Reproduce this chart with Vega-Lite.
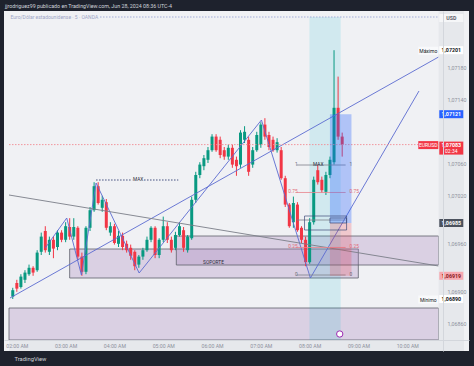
{
"$schema":"https://vega.github.io/schema/vega-lite/v6.json",
"width":465,"height":340,
"autosize":{"type":"none"},
"padding":{"left":4,"top":11,"right":5,"bottom":15},
"background":"#1e222d",
"view":{"fill":"#f0f1f4","stroke":null},
"config":{"font":"Roboto","axis":{"grid":false,"ticks":false}},
"title":{"text":"jjrodriguez99 publicado en TradingView.com, Jun 28, 2024 08:36 UTC-4","anchor":"start","frame":"group","fontSize":5.3,"fontWeight":"normal","color":"#d1d4dc","offset":3,"dx":1,"dy":6,"baseline":"bottom","font":"Roboto"},
"datasets":{
"candles":[
{"t":1.9167,"o":1.06893,"h":1.06904,"l":1.0689,"c":1.06901},
{"t":2.0,"o":1.0691,"h":1.06914,"l":1.06899,"c":1.06903},
{"t":2.0833,"o":1.06905,"h":1.06921,"l":1.06903,"c":1.06918},
{"t":2.1667,"o":1.06914,"h":1.06926,"l":1.0691,"c":1.06923},
{"t":2.25,"o":1.06921,"h":1.06933,"l":1.06919,"c":1.06929},
{"t":2.3333,"o":1.06929,"h":1.06931,"l":1.06919,"c":1.06923},
{"t":2.4167,"o":1.06926,"h":1.06951,"l":1.06924,"c":1.06948},
{"t":2.5,"o":1.06949,"h":1.06973,"l":1.06945,"c":1.06968},
{"t":2.5833,"o":1.06975,"h":1.06981,"l":1.06948,"c":1.06951},
{"t":2.6667,"o":1.06949,"h":1.06968,"l":1.06945,"c":1.06964},
{"t":2.75,"o":1.06964,"h":1.06968,"l":1.06941,"c":1.06953},
{"t":2.8333,"o":1.06955,"h":1.06976,"l":1.06951,"c":1.06973},
{"t":2.9167,"o":1.06973,"h":1.06976,"l":1.06961,"c":1.06964},
{"t":3.0,"o":1.06964,"h":1.06986,"l":1.06961,"c":1.06981},
{"t":3.0833,"o":1.0698,"h":1.06991,"l":1.06964,"c":1.06968},
{"t":3.1667,"o":1.06968,"h":1.06991,"l":1.06964,"c":1.0698},
{"t":3.25,"o":1.06979,"h":1.06981,"l":1.06939,"c":1.06943},
{"t":3.3333,"o":1.06943,"h":1.06948,"l":1.06919,"c":1.06924},
{"t":3.4167,"o":1.06924,"h":1.06981,"l":1.06921,"c":1.06979},
{"t":3.5,"o":1.06979,"h":1.07005,"l":1.06975,"c":1.07001},
{"t":3.5833,"o":1.07001,"h":1.07036,"l":1.06999,"c":1.07031},
{"t":3.6667,"o":1.07031,"h":1.07036,"l":1.07008,"c":1.0701},
{"t":3.75,"o":1.07004,"h":1.07019,"l":1.06999,"c":1.07014},
{"t":3.8333,"o":1.07011,"h":1.07015,"l":1.06976,"c":1.06979},
{"t":3.9167,"o":1.06973,"h":1.06986,"l":1.06969,"c":1.06981},
{"t":4.0,"o":1.06981,"h":1.06984,"l":1.06958,"c":1.0696},
{"t":4.0833,"o":1.06959,"h":1.06975,"l":1.06955,"c":1.06969},
{"t":4.1667,"o":1.06969,"h":1.06973,"l":1.06951,"c":1.06955},
{"t":4.25,"o":1.06959,"h":1.06963,"l":1.06948,"c":1.06951},
{"t":4.3333,"o":1.06954,"h":1.06958,"l":1.06939,"c":1.06944},
{"t":4.4167,"o":1.06949,"h":1.06951,"l":1.06926,"c":1.06931},
{"t":4.5,"o":1.06933,"h":1.06945,"l":1.06929,"c":1.06943},
{"t":4.5833,"o":1.06943,"h":1.06954,"l":1.06939,"c":1.06951},
{"t":4.6667,"o":1.06951,"h":1.06968,"l":1.06949,"c":1.06964},
{"t":4.75,"o":1.06964,"h":1.06981,"l":1.06961,"c":1.06979},
{"t":4.8333,"o":1.06979,"h":1.06981,"l":1.06941,"c":1.06945},
{"t":4.9167,"o":1.06945,"h":1.06966,"l":1.06941,"c":1.06964},
{"t":5.0,"o":1.06964,"h":1.06993,"l":1.06961,"c":1.06981},
{"t":5.0833,"o":1.06981,"h":1.06986,"l":1.0696,"c":1.06964},
{"t":5.1667,"o":1.06964,"h":1.06968,"l":1.06948,"c":1.06951},
{"t":5.25,"o":1.06954,"h":1.06974,"l":1.06951,"c":1.0697},
{"t":5.3333,"o":1.0697,"h":1.06986,"l":1.06968,"c":1.06981},
{"t":5.4167,"o":1.06976,"h":1.0698,"l":1.06949,"c":1.06954},
{"t":5.5,"o":1.06951,"h":1.0697,"l":1.06948,"c":1.06968},
{"t":5.5833,"o":1.06966,"h":1.07018,"l":1.06964,"c":1.07014},
{"t":5.6667,"o":1.07014,"h":1.07049,"l":1.0701,"c":1.07045},
{"t":5.75,"o":1.07045,"h":1.07061,"l":1.07041,"c":1.07058},
{"t":5.8333,"o":1.07056,"h":1.0707,"l":1.07051,"c":1.07066},
{"t":5.9167,"o":1.07064,"h":1.0708,"l":1.0706,"c":1.07076},
{"t":6.0,"o":1.07076,"h":1.07096,"l":1.07074,"c":1.07093},
{"t":6.0833,"o":1.07093,"h":1.07096,"l":1.07074,"c":1.07076},
{"t":6.1667,"o":1.07089,"h":1.07093,"l":1.07066,"c":1.0707},
{"t":6.25,"o":1.07076,"h":1.0708,"l":1.07064,"c":1.07068},
{"t":6.3333,"o":1.07068,"h":1.07083,"l":1.07064,"c":1.07079},
{"t":6.4167,"o":1.07079,"h":1.07083,"l":1.07054,"c":1.07058},
{"t":6.5,"o":1.07064,"h":1.07068,"l":1.07044,"c":1.07056},
{"t":6.5833,"o":1.07058,"h":1.07101,"l":1.07054,"c":1.07098},
{"t":6.6667,"o":1.07089,"h":1.07106,"l":1.07085,"c":1.07099},
{"t":6.75,"o":1.07089,"h":1.07093,"l":1.07044,"c":1.07049},
{"t":6.8333,"o":1.07058,"h":1.0708,"l":1.07054,"c":1.07076},
{"t":6.9167,"o":1.07076,"h":1.07099,"l":1.07074,"c":1.07095},
{"t":7.0,"o":1.07083,"h":1.07111,"l":1.07079,"c":1.07108},
{"t":7.0833,"o":1.07108,"h":1.07116,"l":1.07089,"c":1.07093},
{"t":7.1667,"o":1.07095,"h":1.07099,"l":1.07076,"c":1.0708},
{"t":7.25,"o":1.07089,"h":1.07093,"l":1.07074,"c":1.07076},
{"t":7.3333,"o":1.07076,"h":1.07091,"l":1.07073,"c":1.07086},
{"t":7.4167,"o":1.07076,"h":1.0708,"l":1.07039,"c":1.07041},
{"t":7.5,"o":1.07041,"h":1.07044,"l":1.07005,"c":1.07008},
{"t":7.5833,"o":1.07008,"h":1.0701,"l":1.06979,"c":1.06981},
{"t":7.6667,"o":1.06986,"h":1.07018,"l":1.06979,"c":1.0701},
{"t":7.75,"o":1.07008,"h":1.07011,"l":1.06974,"c":1.06976},
{"t":7.8333,"o":1.06979,"h":1.06981,"l":1.0696,"c":1.06964},
{"t":7.9167,"o":1.06964,"h":1.06968,"l":1.06931,"c":1.06936},
{"t":8.0,"o":1.06936,"h":1.06991,"l":1.06934,"c":1.06986},
{"t":8.0833,"o":1.06986,"h":1.07043,"l":1.06983,"c":1.07039},
{"t":8.1667,"o":1.07051,"h":1.07058,"l":1.07033,"c":1.07036},
{"t":8.25,"o":1.07039,"h":1.07043,"l":1.07023,"c":1.07026},
{"t":8.3333,"o":1.07024,"h":1.07049,"l":1.0702,"c":1.07045},
{"t":8.4167,"o":1.07045,"h":1.07068,"l":1.07041,"c":1.07064},
{"t":8.5,"o":1.07061,"h":1.07201,"l":1.07058,"c":1.07129},
{"t":8.5833,"o":1.07129,"h":1.07168,"l":1.07089,"c":1.07093},
{"t":8.6667,"o":1.07093,"h":1.07098,"l":1.07068,"c":1.07083}
],
"zones":[
{"name":"A","t1":3.0827,"t2":8.9975,"p1":1.069525,"p2":1.0691625},
{"name":"B","t1":5.268,"t2":10.6416,"p1":1.0696875,"p2":1.069325},
{"name":"C","t1":1.8396,"t2":10.6416,"p1":1.0687875,"p2":1.0683875},
{"name":"band","t1":7.995,"t2":8.637,"p1":1.072425,"p2":1.0683875},
{"name":"tgt","t1":8.416,"t2":8.857,"p1":1.07121,"p2":1.06985},
{"name":"stp","t1":8.416,"t2":8.857,"p1":1.06985,"p2":1.06919},
{"name":"entry","t1":7.895,"t2":8.757,"p1":1.0699375,"p2":1.0697625},
{"name":"entry2","t1":8.416,"t2":8.757,"p1":1.0699125,"p2":1.06985}
],
"lines":[
{"id":"zz","ord":1,"t":2.5815,"p":1.0695375},
{"id":"zz","ord":2,"t":3.0226,"p":1.0699125},
{"id":"zz","ord":3,"t":3.3233,"p":1.0692},
{"id":"zz","ord":4,"t":3.6241,"p":1.07035},
{"id":"zz","ord":5,"t":4.5063,"p":1.069225},
{"id":"zz","ord":6,"t":7.0125,"p":1.0711375},
{"id":"zz","ord":7,"t":8.015,"p":1.0691625},
{"id":"zz","ord":8,"t":10.2406,"p":1.0715},
{"id":"up","ord":1,"t":1.8596,"p":1.0689125},
{"id":"up","ord":2,"t":10.6416,"p":1.071925},
{"id":"down","ord":1,"t":1.8396,"p":1.0702},
{"id":"down","ord":2,"t":10.6416,"p":1.0693125}
],
"hl":[
{"id":"max","t1":3.6241,"t2":4.3659,"p":1.0703875},
{"id":"max","t1":4.6065,"t2":5.3083,"p":1.0703875},
{"id":"top","t1":3.7043,"t2":10.6416,"p":1.072425},
{"id":"price","t1":1.8396,"t2":10.6416,"p":1.07083}
],
"fib":[
{"lvl":"1","t1":7.734,"t2":8.737,"p":1.070575},
{"lvl":"0.75","t1":7.734,"t2":8.737,"p":1.0702313},
{"lvl":"0.5","t1":7.734,"t2":8.737,"p":1.0698875},
{"lvl":"0.25","t1":7.734,"t2":8.737,"p":1.0695438},
{"lvl":"0","t1":7.734,"t2":8.737,"p":1.0692}
],
"texts":[
{"kind":"legend","t":1.87,"p":1.072425,"text":"Euro/Dólar estadounidense · 5 · OANDA"},
{"kind":"lbl","t":4.4862,"p":1.0703875,"text":"MAX"},
{"kind":"lbl","t":8.1755,"p":1.070575,"text":"MAX"},
{"kind":"lbl","t":6.0301,"p":1.06935,"text":"SOPORTE"},
{"kind":"fibL","t":7.7544,"p":1.070575,"text":"1"},
{"kind":"fibL","t":7.7544,"p":1.0702313,"text":"0.75"},
{"kind":"fibL","t":7.7544,"p":1.0695438,"text":"0.25"},
{"kind":"fibL","t":7.7544,"p":1.0692,"text":"0"},
{"kind":"fibR","t":8.817,"p":1.070575,"text":"1"},
{"kind":"fibR","t":8.817,"p":1.0702313,"text":"0.75"},
{"kind":"fibR","t":8.817,"p":1.0695438,"text":"0.25"},
{"kind":"fibR","t":8.817,"p":1.0692,"text":"0"}
],
"badges":[
{"p":1.07201,"label":"1,07201","kind":"max"},
{"p":1.07121,"label":"1,07121","kind":"blue"},
{"p":1.06985,"label":"1,06985","kind":"dark"},
{"p":1.06919,"label":"1,06919","kind":"pink"},
{"p":1.0689,"label":"1,06890","kind":"min"},
{"p":1.0724125,"label":"USD","kind":"usd"}
],
"redbadge":[{"p":1.07083,"label":"1,07083","sub":"02:34"}],
"side":[
{"p":1.07201,"text":"Máximo","kind":"w"},
{"p":1.0689,"text":"Mínimo","kind":"w"},
{"p":1.07083,"text":"EURUSD","kind":"r"}
],
"events":[{"t":8.6165,"p":1.0684625}]
},
"layer":[
{"data":{"name":"zones"},"transform":[{"filter":{"field":"name","oneOf":["A","B","C"]}}],
 "mark":{"type":"rect","fill":"#a07ab8","fillOpacity":0.28,"stroke":"#5d606b","strokeWidth":0.8},
 "encoding":{
  "x":{"field":"t1","type":"quantitative","scale":{"domain":[1.8396,11.1629],"nice":false,"zero":false},
   "axis":{"orient":"bottom","offset":-11,"values":[2,3,4,5,6,7,8,9,10],"labelExpr":"(datum.value<10?'0':'')+datum.value+':00 AM'","labelFontSize":5.2,"labelColor":"#8d919c","labelPadding":3,"ticks":false,"domain":true,"domainColor":"#d3d6dc","grid":false,"zindex":1,"labelFlush":false,"title":"TradingView","titleX":10,"titleY":18,"titleAlign":"left","titleAnchor":"start","titleBaseline":"middle","titleFontSize":5.8,"titleFontWeight":"normal","titleColor":"#d1d4dc"}},
  "x2":{"field":"t2"},
  "y":{"field":"p1","type":"quantitative","scale":{"domain":[1.06825,1.0725],"nice":false,"zero":false},
   "axis":{"orient":"right","offset":-26,"values":[1.0686,1.0688,1.069,1.0694,1.0696,1.07,1.0702,1.0704,1.0706,1.071,1.0714,1.0716,1.0718,1.0722],"labelExpr":"replace(format(datum.value,'.5f'),'.',',')","labelFontSize":5.3,"labelColor":"#8d919c","labelPadding":4,"labelAlign":"left","ticks":false,"domain":true,"domainColor":"#d3d6dc","grid":false,"zindex":1,"title":null}},
  "y2":{"field":"p2"}}},
{"data":{"name":"zones"},"transform":[{"filter":"datum.name==='band'"}],
 "mark":{"type":"rect","fill":"#00bcd4","fillOpacity":0.13},
 "encoding":{"x":{"field":"t1","type":"quantitative"},"x2":{"field":"t2"},"y":{"field":"p1","type":"quantitative"},"y2":{"field":"p2"}}},
{"data":{"name":"candles"},
 "mark":{"type":"rule","strokeWidth":1},
 "encoding":{"x":{"field":"t","type":"quantitative"},"y":{"field":"l","type":"quantitative"},"y2":{"field":"h"},
  "color":{"condition":{"test":"datum.c>=datum.o","value":"#089981"},"value":"#f23645"}}},
{"data":{"name":"candles"},
 "mark":{"type":"bar","width":3},
 "encoding":{"x":{"field":"t","type":"quantitative"},"y":{"field":"o","type":"quantitative"},"y2":{"field":"c"},
  "color":{"condition":{"test":"datum.c>=datum.o","value":"#089981"},"value":"#f23645"}}},
{"data":{"name":"lines"},
 "mark":{"type":"line","strokeWidth":0.9},
 "encoding":{"x":{"field":"t","type":"quantitative"},"y":{"field":"p","type":"quantitative"},"detail":{"field":"id"},"order":{"field":"ord"},
  "color":{"condition":{"test":"datum.id==='down'","value":"#7b7e88"},"value":"#5b6bd0"}}},
{"data":{"name":"hl"},
 "mark":{"type":"rule","strokeWidth":0.9,"strokeDash":[1.5,1.5]},
 "encoding":{"x":{"field":"t1","type":"quantitative"},"x2":{"field":"t2"},"y":{"field":"p","type":"quantitative"},
  "color":{"condition":[{"test":"datum.id==='max'","value":"#2e3b70"},{"test":"datum.id==='top'","value":"#9aa6d6"}],"value":"#f28b94"}}},
{"data":{"name":"fib"},
 "mark":{"type":"rule","strokeWidth":0.8},
 "encoding":{"x":{"field":"t1","type":"quantitative"},"x2":{"field":"t2"},"y":{"field":"p","type":"quantitative"},
  "color":{"condition":{"test":"datum.lvl==='0.75'||datum.lvl==='0.25'","value":"#e8848d"},"value":"#7d808a"}}},
{"data":{"name":"zones"},"transform":[{"filter":"datum.name==='tgt'"}],
 "mark":{"type":"rect","fill":"#2962ff","fillOpacity":0.32},
 "encoding":{"x":{"field":"t1","type":"quantitative"},"x2":{"field":"t2"},"y":{"field":"p1","type":"quantitative"},"y2":{"field":"p2"}}},
{"data":{"name":"zones"},"transform":[{"filter":"datum.name==='stp'"}],
 "mark":{"type":"rect","fill":"#f23645","fillOpacity":0.22},
 "encoding":{"x":{"field":"t1","type":"quantitative"},"x2":{"field":"t2"},"y":{"field":"p1","type":"quantitative"},"y2":{"field":"p2"}}},
{"data":{"name":"zones"},"transform":[{"filter":{"field":"name","oneOf":["entry","entry2"]}}],
 "mark":{"type":"rect","fillOpacity":0,"stroke":"#3f4a7a","strokeWidth":0.7},
 "encoding":{"x":{"field":"t1","type":"quantitative"},"x2":{"field":"t2"},"y":{"field":"p1","type":"quantitative"},"y2":{"field":"p2"}}},
{"data":{"name":"texts"},"transform":[{"filter":"datum.kind==='legend'"}],
 "mark":{"type":"text","align":"left","fontSize":5,"color":"#9ea6c7"},
 "encoding":{"x":{"field":"t","type":"quantitative"},"y":{"field":"p","type":"quantitative"},"text":{"field":"text"}}},
{"data":{"name":"texts"},"transform":[{"filter":"datum.kind==='lbl'"}],
 "mark":{"type":"text","align":"center","fontSize":4.8,"color":"#2a2e39"},
 "encoding":{"x":{"field":"t","type":"quantitative"},"y":{"field":"p","type":"quantitative"},"text":{"field":"text"}}},
{"data":{"name":"texts"},"transform":[{"filter":"datum.kind==='fibL'"}],
 "mark":{"type":"text","align":"right","fontSize":4.8},
 "encoding":{"x":{"field":"t","type":"quantitative"},"y":{"field":"p","type":"quantitative"},"text":{"field":"text"},
  "color":{"condition":{"test":"datum.text==='0.75'||datum.text==='0.25'","value":"#e06a75"},"value":"#6a6d78"}}},
{"data":{"name":"texts"},"transform":[{"filter":"datum.kind==='fibR'"}],
 "mark":{"type":"text","align":"left","fontSize":4.8},
 "encoding":{"x":{"field":"t","type":"quantitative"},"y":{"field":"p","type":"quantitative"},"text":{"field":"text"},
  "color":{"condition":{"test":"datum.text==='0.75'||datum.text==='0.25'","value":"#e06a75"},"value":"#6a6d78"}}},
{"data":{"values":[{}]},
 "mark":{"type":"rect","fill":"#e6e8ec"},
 "encoding":{"x":{"datum":10.6416,"type":"quantitative"},"x2":{"datum":11.1629},"y":{"datum":1.06825,"type":"quantitative"},"y2":{"datum":1.0725}}},
{"data":{"values":[{}]},
 "mark":{"type":"rect","fill":"#e6e8ec"},
 "encoding":{"x":{"datum":1.8396,"type":"quantitative"},"x2":{"datum":11.1629},"y":{"datum":1.06825,"type":"quantitative"},"y2":{"datum":1.0683875}}},
{"data":{"name":"badges"},
 "mark":{"type":"tick","orient":"horizontal","size":24,"thickness":8,"opacity":1},
 "encoding":{"x":{"datum":10.9023,"type":"quantitative"},"y":{"field":"p","type":"quantitative"},
  "color":{"condition":[{"test":"datum.kind==='blue'","value":"#2962ff"},{"test":"datum.kind==='dark'","value":"#4c525e"},{"test":"datum.kind==='pink'","value":"#f7a9b0"},{"test":"datum.kind==='usd'","value":"#f5f6f8"}],"value":"#ffffff"}}},
{"data":{"name":"redbadge"},
 "mark":{"type":"tick","orient":"horizontal","size":24,"thickness":13,"opacity":1,"color":"#f23645","yOffset":3.5},
 "encoding":{"x":{"datum":10.9023,"type":"quantitative"},"y":{"field":"p","type":"quantitative"}}},
{"data":{"name":"badges"},
 "mark":{"type":"text","fontSize":5.3,"fontWeight":"bold"},
 "encoding":{"x":{"datum":10.9023,"type":"quantitative"},"y":{"field":"p","type":"quantitative"},"text":{"field":"label"},
  "color":{"condition":[{"test":"datum.kind==='blue'||datum.kind==='dark'","value":"#ffffff"},{"test":"datum.kind==='pink'","value":"#8a1c24"},{"test":"datum.kind==='usd'","value":"#5d606b"}],"value":"#131722"}}},
{"data":{"name":"redbadge"},
 "mark":{"type":"text","fontSize":5.3,"fontWeight":"bold","color":"#ffffff","dy":0.5},
 "encoding":{"x":{"datum":10.9023,"type":"quantitative"},"y":{"field":"p","type":"quantitative"},"text":{"field":"label"}}},
{"data":{"name":"redbadge"},
 "mark":{"type":"text","fontSize":5,"color":"#ffffff","dy":6.5},
 "encoding":{"x":{"datum":10.9023,"type":"quantitative"},"y":{"field":"p","type":"quantitative"},"text":{"field":"sub"}}},
{"data":{"name":"side"},
 "mark":{"type":"tick","orient":"horizontal","size":20,"thickness":8,"opacity":1,"yOffset":0.5},
 "encoding":{"x":{"datum":10.4311,"type":"quantitative"},"y":{"field":"p","type":"quantitative"},
  "color":{"condition":{"test":"datum.kind==='r'","value":"#f23645"},"value":"#f8f9fb"}}},
{"data":{"name":"side"},
 "mark":{"type":"text","fontSize":5,"dy":0.5},
 "encoding":{"x":{"datum":10.4311,"type":"quantitative"},"y":{"field":"p","type":"quantitative"},"text":{"field":"text"},
  "color":{"condition":{"test":"datum.kind==='r'","value":"#ffffff"},"value":"#131722"}}},
{"data":{"name":"events"},
 "mark":{"type":"point","shape":"circle","size":40,"filled":true,"fill":"#ffffff","stroke":"#9c27b0","strokeWidth":1,"opacity":1},
 "encoding":{"x":{"field":"t","type":"quantitative"},"y":{"field":"p","type":"quantitative"}}}
]
}
